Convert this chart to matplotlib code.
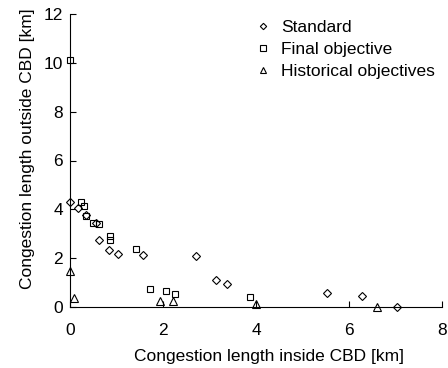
import numpy as np
import matplotlib
matplotlib.use('Agg')
import matplotlib.pyplot as plt

plt.rcParams['font.family'] = ['Liberation Sans', 'DejaVu Sans']

# Standard
std_in = [0.0, 0.17, 0.34, 0.55, 0.63, 0.84, 1.04, 1.58, 2.70, 3.15, 3.37, 5.52, 6.29, 7.03]
std_out = [4.29, 4.07, 3.77, 3.46, 2.75, 2.33, 2.18, 2.11, 2.08, 1.10, 0.95, 0.58, 0.47, 0.0]
# Final objective
fin_in = [0.0, 0.24, 0.31, 0.34, 0.49, 0.62, 0.85, 0.85, 1.43, 1.71, 2.07, 2.26, 3.87]
fin_out = [10.1, 4.31, 4.12, 3.74, 3.46, 3.41, 2.91, 2.76, 2.38, 0.73, 0.65, 0.54, 0.41]
# Historical objectives
his_in = [0.0, 0.09, 1.94, 2.22, 4.01, 6.6]
his_out = [1.47, 0.38, 0.23, 0.23, 0.12, 0.0]

fig = plt.figure(figsize=(4.48, 3.68), dpi=100)
ax = fig.add_axes([70/448, 1-307/368, 372/448, 293/368])

ax.plot(std_in, std_out, 'D', ms=3.8, mfc='white', mec='black', mew=0.8, ls='none', label='Standard', clip_on=False)
ax.plot(fin_in, fin_out, 's', ms=4.6, mfc='none', mec='black', mew=0.8, ls='none', label='Final objective', clip_on=False)
ax.plot(his_in, his_out, '^', ms=5.6, mfc='none', mec='black', mew=0.8, ls='none', label='Historical objectives', clip_on=False)

ax.set_xlim(0, 8)
ax.set_ylim(0, 12)
ax.set_xticks([0, 2, 4, 6, 8])
ax.set_yticks([0, 2, 4, 6, 8, 10, 12])
ax.spines['top'].set_visible(False)
ax.spines['right'].set_visible(False)
ax.tick_params(direction='in', length=4, labelsize=12.5)
ax.tick_params(axis='x', pad=11.5)
ax.tick_params(axis='y', pad=5)
ax.set_xlabel('Congestion length inside CBD [km]', fontsize=12.5)
ax.set_ylabel('Congestion length outside CBD [km]', fontsize=12.5)
# the original figure was cropped on the right, so labels sit off-centre
ax.xaxis.set_label_coords((269-70)/372, -0.143)
ax.yaxis.set_label_coords(-0.094, (307-149)/293)

ax.legend(loc='upper left', bbox_to_anchor=(258/448, 1-20/368), bbox_transform=fig.transFigure,
          frameon=False, markerscale=0.85, fontsize=12.5, handlelength=0.6, handletextpad=0.75,
          labelspacing=0.38, borderpad=0, borderaxespad=0)

fig.savefig('out.png', dpi=100)
